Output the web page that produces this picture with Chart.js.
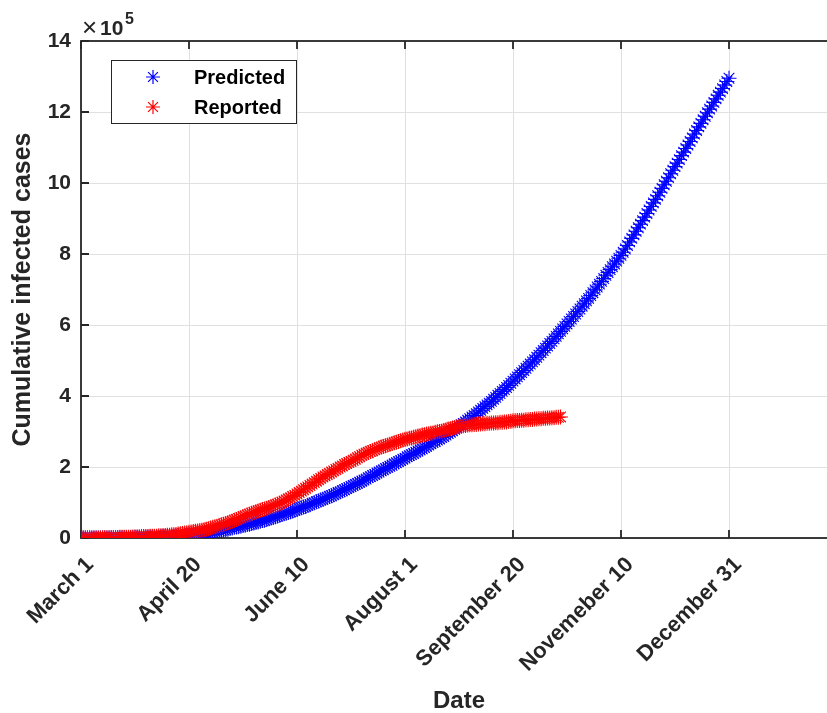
<!DOCTYPE html>
<html>
<head>
<meta charset="utf-8">
<script src="https://cdn.jsdelivr.net/npm/chart.js@4.4.1/dist/chart.umd.min.js"></script>
<style>
    html, body { margin: 0; padding: 0; background: #fff; overflow: hidden; }
    #wrap { width: 827px; height: 713px; overflow: hidden; position: relative; }
</style>
</head>
<body>
<div id="wrap"><canvas id="chartCasos" width="850" height="713"></canvas></div>
<script>
// un valor por dia desde el 1 de marzo (unidades de 10^5 casos)
const predichos = [
    0.00, 0.00, 0.00, 0.00, 0.00, 0.00, 0.00, 0.00, 0.00, 0.00,
    0.00, 0.00, 0.00, 0.00, 0.01, 0.01, 0.01, 0.01, 0.01, 0.01,
    0.01, 0.01, 0.01, 0.01, 0.01, 0.02, 0.02, 0.02, 0.02, 0.02,
    0.02, 0.02, 0.03, 0.03, 0.03, 0.03, 0.03, 0.04, 0.04, 0.04,
    0.04, 0.05, 0.05, 0.05, 0.05, 0.06, 0.06, 0.07, 0.07, 0.08,
    0.08, 0.09, 0.09, 0.10, 0.10, 0.11, 0.12, 0.13, 0.14, 0.15,
    0.16, 0.17, 0.18, 0.19, 0.20, 0.22, 0.23, 0.24, 0.25, 0.27,
    0.28, 0.30, 0.31, 0.32, 0.33, 0.35, 0.36, 0.38, 0.39, 0.41,
    0.42, 0.44, 0.45, 0.47, 0.49, 0.50, 0.52, 0.54, 0.56, 0.58,
    0.60, 0.62, 0.64, 0.66, 0.68, 0.70, 0.72, 0.74, 0.76, 0.78,
    0.80, 0.83, 0.85, 0.87, 0.89, 0.92, 0.94, 0.97, 0.99, 1.02,
    1.04, 1.07, 1.09, 1.12, 1.14, 1.17, 1.19, 1.22, 1.25, 1.28,
    1.30, 1.33, 1.36, 1.39, 1.42, 1.45, 1.48, 1.51, 1.54, 1.57,
    1.60, 1.63, 1.66, 1.70, 1.73, 1.76, 1.79, 1.83, 1.86, 1.89,
    1.92, 1.96, 1.99, 2.02, 2.05, 2.09, 2.12, 2.15, 2.18, 2.22,
    2.25, 2.29, 2.32, 2.35, 2.38, 2.42, 2.45, 2.48, 2.51, 2.55,
    2.58, 2.62, 2.65, 2.69, 2.72, 2.76, 2.79, 2.83, 2.86, 2.90,
    2.94, 2.98, 3.02, 3.06, 3.10, 3.15, 3.19, 3.23, 3.27, 3.32,
    3.36, 3.41, 3.45, 3.50, 3.55, 3.60, 3.65, 3.70, 3.75, 3.80,
    3.85, 3.91, 3.96, 4.02, 4.07, 4.13, 4.18, 4.24, 4.30, 4.36,
    4.42, 4.48, 4.54, 4.60, 4.66, 4.72, 4.78, 4.84, 4.90, 4.96,
    5.02, 5.09, 5.15, 5.22, 5.28, 5.35, 5.41, 5.48, 5.54, 5.61,
    5.68, 5.75, 5.82, 5.89, 5.96, 6.03, 6.10, 6.17, 6.24, 6.31,
    6.38, 6.45, 6.53, 6.60, 6.68, 6.75, 6.83, 6.91, 6.99, 7.07,
    7.15, 7.23, 7.31, 7.40, 7.48, 7.56, 7.64, 7.72, 7.80, 7.88,
    7.96, 8.05, 8.14, 8.24, 8.34, 8.44, 8.54, 8.64, 8.74, 8.84,
    8.94, 9.04, 9.14, 9.24, 9.34, 9.44, 9.54, 9.64, 9.74, 9.85,
    9.95, 10.05, 10.15, 10.26, 10.36, 10.46, 10.56, 10.66, 10.77, 10.87,
    10.97, 11.07, 11.17, 11.27, 11.38, 11.48, 11.58, 11.68, 11.78, 11.88,
    11.98, 12.08, 12.17, 12.27, 12.37, 12.47, 12.56, 12.66, 12.76, 12.86,
    12.95
];

const reportados = [
    0.00, 0.00, 0.00, 0.00, 0.00, 0.00, 0.00, 0.00, 0.00, 0.00,
    0.01, 0.01, 0.01, 0.01, 0.01, 0.01, 0.01, 0.01, 0.02, 0.02,
    0.02, 0.02, 0.02, 0.02, 0.03, 0.03, 0.03, 0.03, 0.04, 0.04,
    0.04, 0.04, 0.05, 0.05, 0.05, 0.05, 0.06, 0.06, 0.07, 0.07,
    0.08, 0.08, 0.09, 0.09, 0.10, 0.11, 0.12, 0.13, 0.14, 0.15,
    0.16, 0.17, 0.18, 0.19, 0.20, 0.21, 0.22, 0.23, 0.25, 0.26,
    0.28, 0.30, 0.32, 0.33, 0.35, 0.37, 0.39, 0.41, 0.43, 0.45,
    0.47, 0.50, 0.52, 0.55, 0.57, 0.60, 0.62, 0.65, 0.67, 0.70,
    0.72, 0.74, 0.76, 0.78, 0.80, 0.82, 0.84, 0.86, 0.88, 0.90,
    0.93, 0.95, 0.98, 1.01, 1.04, 1.07, 1.10, 1.13, 1.17, 1.20,
    1.24, 1.28, 1.32, 1.36, 1.40, 1.44, 1.48, 1.52, 1.56, 1.60,
    1.64, 1.68, 1.72, 1.75, 1.79, 1.82, 1.86, 1.89, 1.93, 1.96,
    2.00, 2.03, 2.07, 2.10, 2.13, 2.16, 2.19, 2.22, 2.26, 2.29,
    2.33, 2.36, 2.39, 2.41, 2.44, 2.46, 2.49, 2.51, 2.54, 2.56,
    2.58, 2.60, 2.62, 2.64, 2.66, 2.68, 2.70, 2.72, 2.74, 2.76,
    2.78, 2.79, 2.81, 2.82, 2.84, 2.85, 2.87, 2.88, 2.90, 2.91,
    2.93, 2.94, 2.95, 2.96, 2.98, 2.99, 3.00, 3.01, 3.03, 3.05,
    3.07, 3.08, 3.10, 3.11, 3.13, 3.14, 3.15, 3.16, 3.17, 3.18,
    3.19, 3.19, 3.20, 3.20, 3.21, 3.21, 3.22, 3.22, 3.23, 3.23,
    3.24, 3.24, 3.25, 3.25, 3.26, 3.26, 3.27, 3.27, 3.28, 3.29,
    3.30, 3.30, 3.31, 3.31, 3.32, 3.32, 3.33, 3.33, 3.34, 3.34,
    3.35, 3.35, 3.36, 3.36, 3.37, 3.37, 3.38, 3.38, 3.39, 3.39,
    3.40, 3.40, 3.41
];

const diasTicks = [0, 50, 100, 150, 200, 250, 300];
const etiquetasTicks = ["March 1", "April 20", "June 10", "August 1", "September 20", "Novemeber 10", "December 31"];

const colorEjes = "#262626";
const fuente = "'Liberation Sans', Arial, Helvetica, sans-serif";

const aPuntos = arr => arr.map((v, dia) => ({ x: dia, y: v }));

// marco con ticks hacia adentro (estilo matlab)
const marcoPlugin = {
    id: "marco",
    beforeDatasetsDraw(chart) {
        const { ctx, chartArea: a, scales } = chart;
        ctx.save();
        ctx.strokeStyle = colorEjes;
        ctx.lineWidth = 1.8;
        ctx.strokeRect(a.left, a.top, a.right - a.left, a.bottom - a.top);
        ctx.beginPath();
        diasTicks.forEach(d => {
            const x = scales.x.getPixelForValue(d);
            ctx.moveTo(x, a.bottom); ctx.lineTo(x, a.bottom - 8);
            ctx.moveTo(x, a.top); ctx.lineTo(x, a.top + 8);
        });
        scales.y.ticks.forEach(t => {
            const y = scales.y.getPixelForValue(t.value);
            ctx.moveTo(a.left, y); ctx.lineTo(a.left + 8, y);
            ctx.moveTo(a.right, y); ctx.lineTo(a.right - 8, y);
        });
        ctx.stroke();

        // x10^5
        ctx.fillStyle = colorEjes;
        ctx.textBaseline = "alphabetic";
        ctx.textAlign = "left";
        ctx.font = "26px " + fuente;
        ctx.fillText("\u00d7", a.left + 1, a.top - 5);
        ctx.font = "bold 21px " + fuente;
        ctx.fillText("10", a.left + 19, a.top - 6);
        ctx.font = "bold 16px " + fuente;
        ctx.fillText("5", a.left + 44, a.top - 17);
        ctx.restore();
    }
};

const leyendaPlugin = {
    id: "leyenda",
    afterDraw(chart) {
        const { ctx } = chart;
        const x0 = 111, y0 = 60, w = 185, h = 63;
        ctx.save();
        ctx.fillStyle = "#fff";
        ctx.fillRect(x0, y0, w, h);
        ctx.strokeStyle = colorEjes;
        ctx.lineWidth = 1;
        ctx.strokeRect(x0 + 0.5, y0 + 0.5, w, h);
        const items = [chart.data.datasets[1], chart.data.datasets[0]];
        items.forEach((ds, i) => {
            const y = y0 + 17 + i * 30;
            ctx.strokeStyle = ds.borderColor;
            ctx.fillStyle = ds.borderColor;
            ctx.lineWidth = 1.2;
            Chart.helpers.drawPoint(ctx, { pointStyle: "star", radius: 7, rotation: 0, borderWidth: 1.2 }, x0 + 42, y);
            ctx.fillStyle = "#000";
            ctx.font = "bold 20px " + fuente;
            ctx.textBaseline = "middle";
            ctx.textAlign = "left";
            ctx.fillText(ds.label, x0 + 83, y + 1);
        });
        ctx.restore();
    }
};

const ctx = document.getElementById("chartCasos").getContext("2d");

new Chart(ctx, {
    type: "line",
    data: {
        datasets: [
            {
                label: "Reported",
                data: aPuntos(reportados),
                showLine: false,
                pointStyle: "star",
                pointRadius: 7.5,
                pointBorderWidth: 1.1,
                borderColor: "#ff0000",
                backgroundColor: "#ff0000",
                order: 0
            },
            {
                label: "Predicted",
                data: aPuntos(predichos),
                showLine: false,
                pointStyle: "star",
                pointRadius: 7.5,
                pointBorderWidth: 1.1,
                borderColor: "#0000ff",
                backgroundColor: "#0000ff",
                order: 1
            }
        ]
    },
    options: {
        responsive: false,
        animation: false,
        layout: { padding: { top: 41, left: 8, right: 13, bottom: 0 } },
        plugins: { legend: { display: false }, tooltip: { enabled: false } },
        scales: {
            x: {
                type: "linear",
                min: 0,
                max: 350,
                afterBuildTicks: s => { s.ticks = diasTicks.map(v => ({ value: v })); },
                afterFit: s => { s.height = 175; },
                border: { display: false },
                grid: { color: "#e0e0e0", lineWidth: 1, drawTicks: false },
                ticks: {
                    autoSkip: false,
                    minRotation: 45,
                    maxRotation: 45,
                    padding: 14,
                    labelOffset: 9,
                    color: colorEjes,
                    font: { family: fuente, size: 22, weight: "bold" },
                    callback: v => etiquetasTicks[diasTicks.indexOf(v)] || ""
                },
                title: {
                    display: true,
                    text: "Date",
                    color: colorEjes,
                    font: { family: fuente, size: 24, weight: "bold" },
                    padding: { top: 4, bottom: -3 }
                }
            },
            y: {
                min: 0,
                max: 14,
                afterFit: s => { s.width = 73; },
                border: { display: false },
                grid: { color: "#e0e0e0", lineWidth: 1, drawTicks: false },
                ticks: {
                    stepSize: 2,
                    padding: 10,
                    color: colorEjes,
                    font: { family: fuente, size: 21, weight: "bold" }
                },
                title: {
                    display: true,
                    text: "Cumulative infected cases",
                    color: colorEjes,
                    font: { family: fuente, size: 25, weight: "bold" },
                    padding: { top: 0, bottom: 4 }
                }
            }
        }
    },
    plugins: [marcoPlugin, leyendaPlugin]
});
</script>
</body>
</html>
